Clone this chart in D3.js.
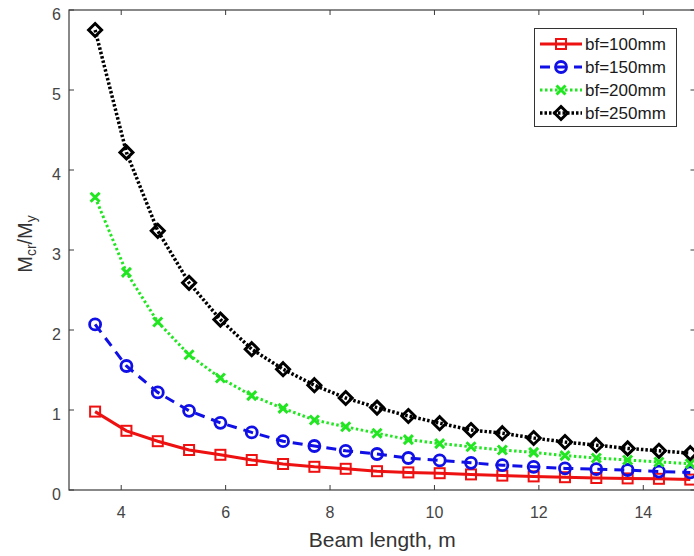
<!DOCTYPE html>
<html><head><meta charset="utf-8">
<script src="https://cdn.jsdelivr.net/npm/d3@7"></script>
<style>
html,body{margin:0;padding:0;background:#fff;}
svg{display:block;font-family:"Liberation Sans",Arial,sans-serif;}
</style></head>
<body>
<svg id="chart" width="694" height="556"></svg>
<script>
// ---- data ----
const beamLength = [3.5, 4.1, 4.7, 5.3, 5.9, 6.5, 7.1, 7.7, 8.3, 8.9, 9.5, 10.1, 10.7, 11.3, 11.9, 12.5, 13.1, 13.7, 14.3, 14.9];
const bf100 = [0.98, 0.74, 0.61, 0.50, 0.44, 0.375, 0.325, 0.29, 0.265, 0.235, 0.22, 0.21, 0.195, 0.18, 0.17, 0.16, 0.15, 0.145, 0.14, 0.13];
const bf150 = [2.07, 1.55, 1.22, 0.99, 0.84, 0.72, 0.61, 0.55, 0.49, 0.45, 0.40, 0.37, 0.34, 0.31, 0.29, 0.27, 0.26, 0.25, 0.23, 0.22];
const bf200 = [3.66, 2.72, 2.10, 1.69, 1.40, 1.18, 1.02, 0.875, 0.79, 0.71, 0.63, 0.58, 0.54, 0.50, 0.47, 0.43, 0.40, 0.375, 0.35, 0.33];
const bf250 = [5.75, 4.22, 3.24, 2.59, 2.13, 1.76, 1.51, 1.31, 1.15, 1.03, 0.925, 0.835, 0.75, 0.71, 0.65, 0.60, 0.56, 0.52, 0.49, 0.46];
const seriesNames = ["bf=100mm", "bf=150mm", "bf=200mm", "bf=250mm"];
const xTicks = [4, 6, 8, 10, 12, 14];
const yTicks = [0, 1, 2, 3, 4, 5, 6];
const xDomain = [3, 15];
const yDomain = [0, 6];

const styles = [
  {color: "#ee1111", dash: null, width: 3, marker: "square"},
  {color: "#1010e6", dash: "10,7", width: 3, marker: "circle"},
  {color: "#22e622", dash: "2.5,2.5", width: 3, marker: "x"},
  {color: "#000000", dash: "2.5,2", width: 3.5, marker: "diamond"}
];
const seriesValues = [bf100, bf150, bf200, bf250];

const svg = d3.select("#chart");
const L = 69, R = 695.5, T = 10, B = 490;
const x = d3.scaleLinear().domain(xDomain).range([L, R]);
const y = d3.scaleLinear().domain(yDomain).range([B, T]);

const axisColor = "#3a3a3a", labelColor = "#444";

// frame
svg.append("rect").attr("x", L).attr("y", T).attr("width", R - L).attr("height", B - T)
  .attr("fill", "none").attr("stroke", axisColor).attr("stroke-width", 1.2);

// ticks (inward)
const tl = 5;
xTicks.forEach(t => {
  svg.append("line").attr("x1", x(t)).attr("x2", x(t)).attr("y1", B).attr("y2", B - tl).attr("stroke", axisColor);
  svg.append("line").attr("x1", x(t)).attr("x2", x(t)).attr("y1", T).attr("y2", T + tl).attr("stroke", axisColor);
  svg.append("text").attr("x", x(t)).attr("y", 518).attr("text-anchor", "middle")
    .attr("font-size", 16).attr("fill", labelColor).text(t);
});
yTicks.forEach(t => {
  svg.append("line").attr("x1", L).attr("x2", L + tl).attr("y1", y(t)).attr("y2", y(t)).attr("stroke", axisColor);
  svg.append("line").attr("x1", R).attr("x2", R - tl).attr("y1", y(t)).attr("y2", y(t)).attr("stroke", axisColor);
  svg.append("text").attr("x", 61).attr("y", y(t) + 9.5).attr("text-anchor", "end")
    .attr("font-size", 16).attr("fill", labelColor).text(t);
});

// axis labels
svg.append("text").attr("x", (L + R) / 2).attr("y", 547).attr("text-anchor", "middle")
  .attr("font-size", 21).attr("fill", "#333").text("Beam length, m");

const yl = svg.append("text").attr("transform", "translate(32,244) rotate(-90)")
  .attr("text-anchor", "middle").attr("font-size", 20).attr("fill", "#333");
yl.append("tspan").text("M");
yl.append("tspan").attr("font-size", 14).attr("dy", 4).text("cr");
yl.append("tspan").attr("dy", -4).text("/M");
yl.append("tspan").attr("font-size", 14).attr("dy", 4).text("y");

// marker drawing
function drawMarker(g, type, cx, cy, color) {
  if (type === "square") {
    g.append("rect").attr("x", cx - 5).attr("y", cy - 5).attr("width", 10).attr("height", 10)
      .attr("fill", "none").attr("stroke", color).attr("stroke-width", 2);
  } else if (type === "circle") {
    g.append("circle").attr("cx", cx).attr("cy", cy).attr("r", 5.5)
      .attr("fill", "none").attr("stroke", color).attr("stroke-width", 2.8);
  } else if (type === "x") {
    const s = 4.5;
    g.append("path").attr("d", `M${cx - s},${cy - s}L${cx + s},${cy + s}M${cx - s},${cy + s}L${cx + s},${cy - s}`)
      .attr("stroke", color).attr("stroke-width", 3).attr("fill", "none");
  } else if (type === "diamond") {
    const s = 6.5;
    g.append("path").attr("d", `M${cx},${cy - s}L${cx + s},${cy}L${cx},${cy + s}L${cx - s},${cy}Z`)
      .attr("fill", "none").attr("stroke", color).attr("stroke-width", 3);
  }
}

// series
const line = d3.line().x(d => x(d[0])).y(d => y(d[1]));
seriesValues.forEach((vals, i) => {
  const st = styles[i];
  const pts = beamLength.map((b, j) => [b, vals[j]]);
  const g = svg.append("g");
  g.append("path").datum(pts).attr("d", line).attr("fill", "none")
    .attr("stroke", st.color).attr("stroke-width", st.width)
    .attr("stroke-dasharray", st.dash);
  pts.forEach(p => drawMarker(g, st.marker, x(p[0]), y(p[1]), st.color));
});

// legend
const lg = svg.append("g");
lg.append("rect").attr("x", 534.5).attr("y", 28.5).attr("width", 142).attr("height", 98)
  .attr("fill", "#fff").attr("stroke", "#333").attr("stroke-width", 1);
seriesNames.forEach((name, i) => {
  const st = styles[i];
  const cy = 44 + i * 23;
  lg.append("line").attr("x1", 540).attr("x2", 582).attr("y1", cy).attr("y2", cy)
    .attr("stroke", st.color).attr("stroke-width", st.width).attr("stroke-dasharray", st.dash);
  drawMarker(lg, st.marker, 561, cy, st.color);
  lg.append("text").attr("x", 585).attr("y", cy + 6).attr("font-size", 17)
    .attr("fill", "#1a1a1a").text(name);
});
</script>
</body></html>
